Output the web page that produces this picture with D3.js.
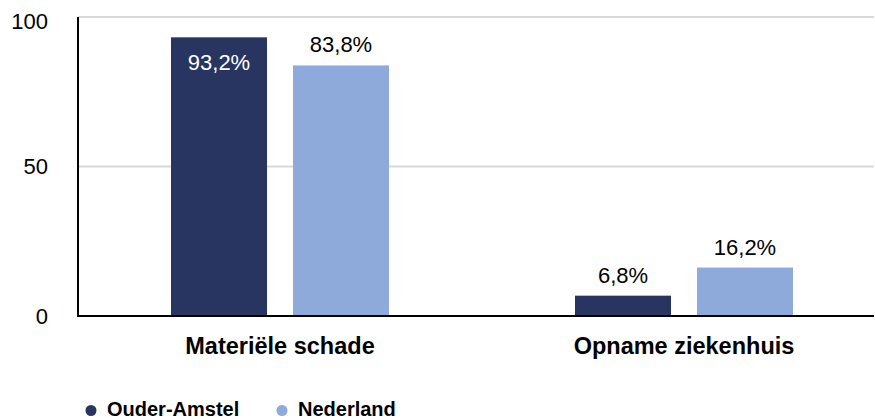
<!DOCTYPE html>
<html>
<head>
<meta charset="utf-8">
<script src="https://cdn.jsdelivr.net/npm/d3@7"></script>
<style>
  html, body { margin: 0; padding: 0; background: #fff; }
  svg { display: block; font-family: "Liberation Sans", Arial, sans-serif; }
</style>
</head>
<body>
<svg id="chart" width="875" height="419"></svg>
<script>
const categories = ["Materiële schade", "Opname ziekenhuis"];
const seriesNames = ["Ouder-Amstel", "Nederland"];
const ouderAmstel = [93.2, 6.8];
const nederland = [83.8, 16.2];
const valueLabels = [["93,2%", "6,8%"], ["83,8%", "16,2%"]];
const yTicks = [0, 50, 100];
const colors = ["#283560", "#8EAADB"];

const seriesValues = [ouderAmstel, nederland];
const svg = d3.select("#chart");

const plotLeft = 78, plotRight = 874, plotTop = 17, plotBottom = 316;

const y = d3.scaleLinear().domain([0, 100]).range([plotBottom, plotTop]);
const x0 = d3.scaleBand().domain(categories).range([plotLeft, 886]);
const x1 = d3.scaleBand().domain(seriesNames).range([93, 311]).paddingInner(0.213);

// gridlines
svg.append("g").selectAll("line").data(yTicks.filter(t => t > 0)).join("line")
  .attr("x1", plotLeft).attr("x2", plotRight)
  .attr("y1", d => y(d)).attr("y2", d => y(d))
  .attr("stroke", "#d9d9d9").attr("stroke-width", 2);

// y tick labels
svg.append("g").selectAll("text").data(yTicks).join("text")
  .attr("x", 48)
  .attr("y", d => Math.max(y(d), 21))
  .attr("dy", "0.36em")
  .attr("text-anchor", "end")
  .attr("font-size", 22)
  .attr("fill", "#000")
  .text(d => d);

// bars
const flat = [];
categories.forEach((c, ci) => {
  seriesNames.forEach((s, si) => {
    flat.push({ cat: c, ser: s, si, value: seriesValues[si][ci], label: valueLabels[si][ci] });
  });
});

svg.append("g").selectAll("rect").data(flat).join("rect")
  .attr("x", d => x0(d.cat) + x1(d.ser))
  .attr("width", x1.bandwidth())
  .attr("y", d => y(d.value))
  .attr("height", d => y(0) - y(d.value))
  .attr("fill", d => colors[d.si]);

// value labels
svg.append("g").selectAll("text").data(flat).join("text")
  .attr("x", d => x0(d.cat) + x1(d.ser) + x1.bandwidth() / 2)
  .attr("y", d => {
    const inside = y(d.value) - 13 - 16 < plotTop;
    return inside ? y(d.value) + 33 : y(d.value) - 13;
  })
  .attr("text-anchor", "middle")
  .attr("font-size", 22)
  .attr("fill", d => (y(d.value) - 13 - 16 < plotTop) ? "#fff" : "#000")
  .text(d => d.label);

// axes lines
svg.append("line")
  .attr("x1", plotLeft).attr("x2", plotLeft)
  .attr("y1", plotTop).attr("y2", plotBottom)
  .attr("stroke", "#000").attr("stroke-width", 2);
svg.append("line")
  .attr("x1", plotLeft - 1).attr("x2", plotRight)
  .attr("y1", plotBottom).attr("y2", plotBottom)
  .attr("stroke", "#000").attr("stroke-width", 2);

// category labels
svg.append("g").selectAll("text").data(categories).join("text")
  .attr("x", d => x0(d) + (93 + 311) / 2)
  .attr("y", 354)
  .attr("text-anchor", "middle")
  .attr("font-size", 23.5)
  .attr("font-weight", "bold")
  .attr("fill", "#000")
  .text(d => d);

// legend
const legendX = [91, 282];
const lg = svg.append("g").selectAll("g").data(seriesNames).join("g")
  .attr("transform", (d, i) => `translate(${legendX[i]},410.5)`);
lg.append("circle").attr("r", 5.5).attr("fill", (d, i) => colors[i]);
lg.append("text")
  .attr("x", 16).attr("y", 5)
  .attr("font-size", 20)
  .attr("font-weight", "bold")
  .attr("fill", "#000")
  .text(d => d);
</script>
</body>
</html>
